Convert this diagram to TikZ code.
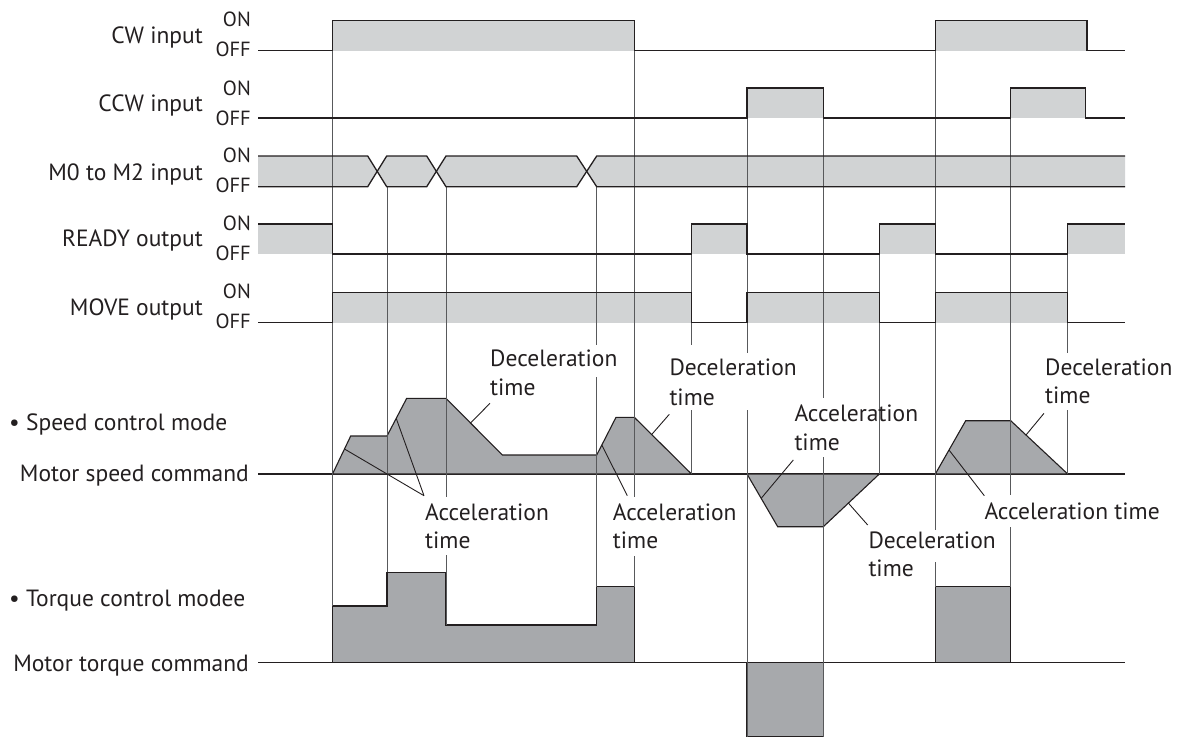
\documentclass[tikz,border=0pt]{standalone}
\usepackage{fontspec}
\setmainfont{PT Sans}
\definecolor{ink}{HTML}{231F20}
\definecolor{sigfill}{HTML}{D1D3D4}
\definecolor{proffill}{HTML}{A7A9AC}
\definecolor{vgray}{HTML}{58595B}
\begin{document}
\begin{tikzpicture}[x=1pt,y=-1pt,
  sig/.style={line width=1.3pt, draw=ink, line join=miter},
  hi/.style={fill=sigfill},
  vline/.style={line width=0.9pt, draw=vgray},
  prof/.style={fill=proffill, draw=ink, line width=1.1pt, line join=miter},
  lead/.style={line width=0.9pt, draw=ink},
  lbl/.style={font=\fontsize{23.5}{28}\selectfont, text=ink, inner sep=0pt},
  onoff/.style={font=\fontsize{20.5}{24}\selectfont, text=ink, inner sep=0pt, anchor=base east},
  axis/.style={line width=1.2pt, draw=ink}]
\useasboundingbox (0,0) rectangle (1186,737);

% ---------- signal fills ----------
\fill[hi] (332.5,20.5) rectangle (634.3,50.7);
\fill[hi] (935.3,20.5) rectangle (1087,50.7);
\fill[hi] (747,88) rectangle (823.3,118);
\fill[hi] (1010.7,88) rectangle (1085.5,118);
\fill[hi] (258,156) -- (367.7,156) -- (377.2,171.35) -- (367.7,186.7) -- (258,186.7) -- cycle;
\fill[hi] (377.2,171.35) -- (386.7,156) -- (426.7,156) -- (436.35,171.35) -- (426.7,186.7) -- (386.7,186.7) -- cycle;
\fill[hi] (436.35,171.35) -- (446,156) -- (576.7,156) -- (586.7,171.35) -- (576.7,186.7) -- (446,186.7) -- cycle;
\fill[hi] (586.7,171.35) -- (596.7,156) -- (1125,156) -- (1125,186.7) -- (596.7,186.7) -- cycle;
\fill[hi] (258,224) rectangle (332.5,254);
\fill[hi] (691.5,224) rectangle (747,254);
\fill[hi] (879.3,224) rectangle (935.3,254);
\fill[hi] (1067.7,224) rectangle (1125,254);
\fill[hi] (332.5,292.7) rectangle (691.5,322.7);
\fill[hi] (747,292.7) rectangle (879.3,322.7);
\fill[hi] (935.3,292.7) rectangle (1067.7,322.7);

% ---------- profiles ----------
\draw[axis] (258,474) -- (1125,474);
\draw[axis] (258,662.7) -- (1125,662.7);
\draw[prof] (332.5,474) -- (350.7,436) -- (387,436) -- (406.7,398.3) -- (446,398.3) -- (502.3,455) -- (596.7,455) -- (616,417.3) -- (634.3,417.3) -- (691.5,474) -- cycle;
\draw[prof] (747,474) -- (777.7,526.7) -- (823.3,526.7) -- (879.3,474) -- cycle;
\draw[prof] (935.3,474) -- (965.7,420.7) -- (1010.7,420.7) -- (1067.7,474) -- cycle;
\draw[prof] (332.5,662.7) -- (332.5,606) -- (387,606) -- (387,572.3) -- (446,572.3) -- (446,625) -- (596.7,625) -- (596.7,586.7) -- (634.3,586.7) -- (634.3,662.7) -- cycle;
\draw[prof] (747,662.7) rectangle (823.3,736.5);
\draw[prof] (935.3,586.7) rectangle (1010.7,662.7);

% ---------- vertical timing lines ----------
\draw[vline] (332.5,20.5) -- (332.5,606);
\draw[vline] (387,186.7) -- (387,572.3);
\draw[vline] (446,186.7) -- (446,497) (446,555) -- (446,625);
\draw[vline] (596.7,186.7) -- (596.7,345) (596.7,377) -- (596.7,586.7);
\draw[vline] (634.3,20.5) -- (634.3,497) (634.3,556) -- (634.3,586.7);
\draw[vline] (691.5,224) -- (691.5,345) (691.5,410) -- (691.5,474);
\draw[vline] (747,88) -- (747,353) (747,410) -- (747,736.5);
\draw[vline] (823.3,88) -- (823.3,398) (823.3,457) -- (823.3,736.5);
\draw[vline] (879.3,224) -- (879.3,474);
\draw[vline] (935.3,20.5) -- (935.3,530) (935.3,562) -- (935.3,586.7);
\draw[vline] (1010.7,88) -- (1010.7,495) (1010.7,527) -- (1010.7,586.7);
\draw[vline] (1067.7,224) -- (1067.7,353) (1067.7,410) -- (1067.7,474);

% ---------- signal lines ----------
\draw[sig] (258,50.7) -- (332.5,50.7) -- (332.5,20.5) -- (634.3,20.5) -- (634.3,50.7) -- (935.3,50.7) -- (935.3,20.5) -- (1087,20.5) -- (1087,50.7) -- (1125,50.7);
\draw[sig] (258,118) -- (747,118) -- (747,88) -- (823.3,88) -- (823.3,118) -- (1010.7,118) -- (1010.7,88) -- (1085.5,88) -- (1085.5,118) -- (1125,118);
\draw[sig] (258,156) -- (367.7,156) -- (386.7,186.7) -- (426.7,186.7) -- (446,156) -- (576.7,156) -- (596.7,186.7) -- (1125,186.7);
\draw[sig] (258,186.7) -- (367.7,186.7) -- (386.7,156) -- (426.7,156) -- (446,186.7) -- (576.7,186.7) -- (596.7,156) -- (1125,156);
\draw[sig] (258,224) -- (332.5,224) -- (332.5,254) -- (691.5,254) -- (691.5,224) -- (747,224) -- (747,254) -- (879.3,254) -- (879.3,224) -- (935.3,224) -- (935.3,254) -- (1067.7,254) -- (1067.7,224) -- (1125,224);
\draw[sig] (258,322.7) -- (332.5,322.7) -- (332.5,292.7) -- (691.5,292.7) -- (691.5,322.7) -- (747,322.7) -- (747,292.7) -- (879.3,292.7) -- (879.3,322.7) -- (935.3,322.7) -- (935.3,292.7) -- (1067.7,292.7) -- (1067.7,322.7) -- (1125,322.7);

% ---------- left labels ----------
\node[lbl, anchor=base east] (lcw) at (203,43.3) {CW input};
\node[lbl, anchor=base east] (lccw) at (203,111.7) {CCW input};
\node[lbl, anchor=base east] (lm) at (203,180) {M0 to M2 input};
\node[lbl, anchor=base east] (lrdy) at (203,246.7) {READY output};
\node[lbl, anchor=base east] (lmove) at (203,315) {MOVE output};
\node[onoff] (on1) at (251,26.7) {ON};   \node[onoff] (off1) at (251,56.7) {OFF};
\node[onoff] (on2) at (251,95) {ON};     \node[onoff] (off2) at (251,125) {OFF};
\node[onoff] (on3) at (251,162) {ON};    \node[onoff] (off3) at (251,192.7) {OFF};
\node[onoff] (on4) at (251,230) {ON};    \node[onoff] (off4) at (251,260) {OFF};
\node[onoff] (on5) at (251,298.3) {ON};  \node[onoff] (off5) at (251,328.3) {OFF};
\node[lbl, anchor=base west] (lspd) at (9,430) {\textbullet\ Speed control mode};
\node[lbl, anchor=base east] (lspdc) at (249,481.7) {Motor speed command};
\node[lbl, anchor=base west] (ltrq) at (9,606.7) {\textbullet\ Torque control modee};
\node[lbl, anchor=base east] (ltrqc) at (249,671.7) {Motor torque command};

% ---------- profile labels ----------
\node[lbl, anchor=base west] (d1a) at (490,366.7) {Deceleration};
\node[lbl, anchor=base west] (d1b) at (490,395) {time};
\node[lbl, anchor=base west] (a1a) at (425,520) {Acceleration};
\node[lbl, anchor=base west] (a1b) at (425,548.3) {time};
\node[lbl, anchor=base west] (a2a) at (612.7,520) {Acceleration};
\node[lbl, anchor=base west] (a2b) at (612.7,548.3) {time};
\node[lbl, anchor=base west] (d2a) at (669.3,375) {Deceleration};
\node[lbl, anchor=base west] (d2b) at (669.3,405) {time};
\node[lbl, anchor=base west] (a3a) at (794.3,421.7) {Acceleration};
\node[lbl, anchor=base west] (a3b) at (794.3,450.7) {time};
\node[lbl, anchor=base west] (d3a) at (868.3,548.3) {Deceleration};
\node[lbl, anchor=base west] (d3b) at (868.3,576.7) {time};
\node[lbl, anchor=base west] (a4) at (984.3,519.3) {Acceleration time};
\node[lbl, anchor=base west] (d4a) at (1045,375) {Deceleration};
\node[lbl, anchor=base west] (d4b) at (1045,403.3) {time};

% ---------- leader lines ----------
\coordinate (p1) at (344.5,449);   \coordinate (q1) at (424,495.7);
\coordinate (p2) at (396.2,418.3);
\coordinate (p3) at (470.5,423);   \coordinate (q3) at (490,403.3);
\coordinate (p4) at (601.8,445);   \coordinate (q4) at (627.3,495.7);
\coordinate (p5) at (651.7,434.5); \coordinate (q5) at (669.3,414.3);
\coordinate (p6) at (761.2,498.3); \coordinate (q6) at (793.3,460);
\coordinate (p7) at (848.3,503);   \coordinate (q7) at (867.7,525);
\coordinate (p8) at (949,450);     \coordinate (q8) at (984.3,495.7);
\coordinate (p9) at (1026,435);    \coordinate (q9) at (1044,413.3);
\draw[lead] (p1) -- (q1);
\draw[lead] (p2) -- (q1);
\draw[lead] (p3) -- (q3);
\draw[lead] (p4) -- (q4);
\draw[lead] (p5) -- (q5);
\draw[lead] (p6) -- (q6);
\draw[lead] (p7) -- (q7);
\draw[lead] (p8) -- (q8);
\draw[lead] (p9) -- (q9);
\end{tikzpicture}
\end{document}
